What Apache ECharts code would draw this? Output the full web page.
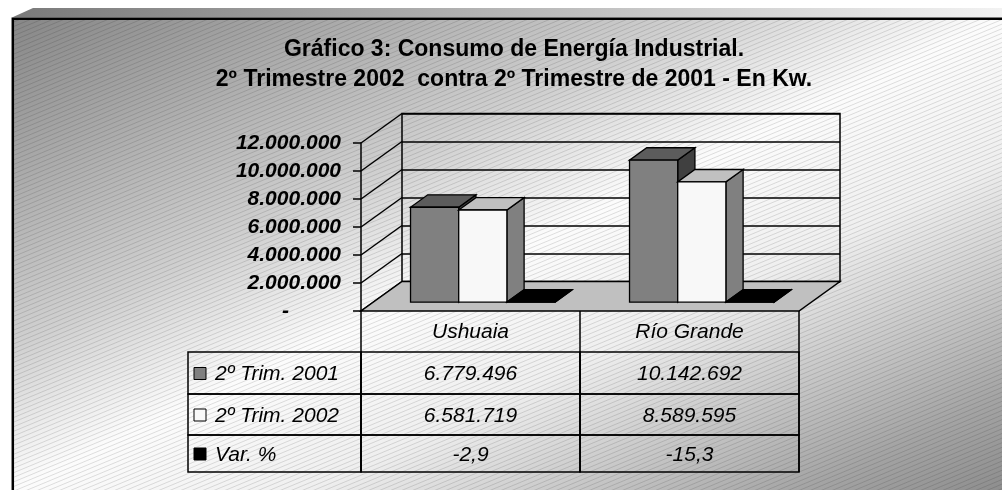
<!DOCTYPE html>
<html>
<head>
<meta charset="utf-8">
<script src="https://cdn.jsdelivr.net/npm/echarts@6/dist/echarts.min.js"></script>
<style>
  html, body { margin: 0; padding: 0; background: #fff; }
  #grafico { width: 1002px; height: 490px; }
</style>
</head>
<body>
<div id="grafico"></div>
<script>
// datos del gráfico
var categorias = ['Ushuaia', 'Río Grande'];
var nombresSeries = ['2º Trim. 2001', '2º Trim. 2002', 'Var. %'];
var trim2001 = [6779496, 10142692];
var trim2002 = [6581719, 8589595];
var variacion = [-2.9, -15.3];
var ticksEje = [0, 2000000, 4000000, 6000000, 8000000, 10000000, 12000000];

var FUENTE = '"Liberation Sans", Arial, sans-serif';
var DX = 41, DY = -29.5;            // profundidad del piso (3D)
var filas = [352, 394, 435, 472];   // bordes de las filas de la tabla

function miles(v) {
    var s = String(Math.round(Math.abs(v))).replace(/\B(?=(\d{3})+(?!\d))/g, '.');
    return (v < 0 ? '-' : '') + s;
}
function decimal(v) {
    return v.toFixed(1).replace('.', ',');
}

var textos = [trim2001.map(miles), trim2002.map(miles), variacion.map(decimal)];
var colores = [
    { front: '#808080', top: '#5c5c5c', side: '#404040' },
    { front: '#f8f8f8', top: '#c0c0c0', side: '#808080' },
    { front: '#000000', top: '#000000', side: '#000000' }
];

// fondo: degradado diagonal + trama de líneas
var fondo = document.createElement('canvas');
fondo.width = 1002; fondo.height = 490;
var ctx = fondo.getContext('2d');
var deg = ctx.createLinearGradient(12, 18, 378.7, 787.2);
deg.addColorStop(0, '#878787');
deg.addColorStop(0.35, '#d0d0d0');
deg.addColorStop(0.5, '#fcfcfc');
deg.addColorStop(0.65, '#efefef');
deg.addColorStop(0.9, '#a4a4a4');
deg.addColorStop(1, '#8e8e8e');
ctx.fillStyle = deg;
ctx.fillRect(12, 18, 990, 472);
ctx.save();
ctx.beginPath();
ctx.rect(12, 18, 990, 472);
ctx.clip();
ctx.strokeStyle = 'rgba(0,0,0,0.12)';
ctx.lineWidth = 1;
for (var c0 = 0; c0 < 490 + 1002 * 5 / 12 + 10; c0 += 4.6) {
    ctx.beginPath();
    ctx.moveTo(0, c0);
    ctx.lineTo(1002, c0 - 1002 * 5 / 12);
    ctx.stroke();
}
ctx.restore();

function barra(sIdx) {
    var c = colores[sIdx];
    return function (params, api) {
        var cat = api.value(0), val = api.value(1);
        var base = api.coord([cat, 0]);
        var tope = api.coord([cat, val]);
        var bw = api.size([1, 0])[0];
        var w = bw * 0.22;
        var ox = DX * 0.3, oy = DY * 0.3, px = DX * 0.42, py = DY * 0.42;
        var x0 = base[0] + (sIdx - 1.5) * w + ox, x1 = x0 + w;
        var yb = base[1] + oy, yt = tope[1] + oy;
        var borde = { stroke: '#000', lineWidth: 1.3 };
        return {
            type: 'group',
            children: [
                { type: 'polygon', shape: { points: [[x1, yt], [x1 + px, yt + py], [x1 + px, yb + py], [x1, yb]] },
                  style: Object.assign({ fill: c.side }, borde) },
                { type: 'polygon', shape: { points: [[x0, yt], [x1, yt], [x1 + px, yt + py], [x0 + px, yt + py]] },
                  style: Object.assign({ fill: c.top }, borde) },
                { type: 'rect', shape: { x: x0, y: yt, width: w, height: yb - yt },
                  style: Object.assign({ fill: c.front }, borde) }
            ]
        };
    };
}

var seriesBarras = [trim2001, trim2002, variacion].map(function (vals, i) {
    return {
        name: nombresSeries[i],
        type: 'custom',
        xAxisIndex: 0, yAxisIndex: 0,
        z: 3,
        renderItem: barra(i),
        encode: { x: 0, y: 1 },
        data: vals.map(function (v, j) { return [j, v]; })
    };
});

var celdas = [];
for (var s = 0; s < nombresSeries.length; s++) {
    for (var c = 0; c < categorias.length; c++) celdas.push([c, 0, s]);
}

var option = {
    backgroundColor: '#fff',
    animation: false,
    title: {
        text: 'Gráfico 3: Consumo de Energía Industrial.\n2º Trimestre 2002  contra 2º Trimestre de 2001 - En Kw.',
        left: 514, top: 35, padding: 0,
        textAlign: 'center',
        textStyle: { fontFamily: FUENTE, fontSize: 23, fontWeight: 'bold', color: '#000', lineHeight: 30 }
    },
    graphic: {
        elements: [
            { type: 'image', z: -10, silent: true,
              style: { image: fondo, x: 0, y: 0, width: 1002, height: 490 } },
            { type: 'polygon', z: -9, silent: true,
              shape: { points: [[12, 17.5], [33, 8], [1002, 8], [1002, 17.5]] },
              style: { fill: { type: 'linear', x: 0, y: 0, x2: 1, y2: 0,
                  colorStops: [{ offset: 0, color: '#7a7a7a' }, { offset: 1, color: '#f2f2f2' }] } } },
            { type: 'polyline', z: -8, silent: true,
              shape: { points: [[12.8, 490], [12.8, 18.7], [1002, 18.7]] },
              style: { stroke: '#000', lineWidth: 2.5, fill: null } }
        ]
    },
    grid: [
        { left: 361, top: 143, width: 438, height: 168 },
        { left: 361 + DX, top: 143 + DY, width: 438, height: 168,
          show: true, borderColor: '#000', borderWidth: 1.5, backgroundColor: 'transparent' }
    ],
    xAxis: [
        { gridIndex: 0, type: 'category', data: categorias,
          axisLine: { show: false },
          axisTick: { show: true, length: 161, lineStyle: { color: '#000', width: 1.5 } },
          axisLabel: { margin: 11, fontFamily: FUENTE, fontSize: 21, fontStyle: 'italic', color: '#000' } },
        { gridIndex: 1, type: 'category', data: categorias, show: false }
    ],
    yAxis: [
        { gridIndex: 0, type: 'value', min: 0, max: 12000000, interval: 2000000,
          axisLine: { show: true, lineStyle: { color: '#000', width: 1.5 } },
          axisTick: { show: true, length: 8, lineStyle: { color: '#000', width: 1.5 } },
          splitLine: { show: false },
          axisLabel: {
              margin: 20, fontFamily: FUENTE, fontSize: 21, fontWeight: 'bold', fontStyle: 'italic', color: '#000',
              formatter: function (v) { return v === 0 ? '{z|-}' : miles(v); },
              rich: { z: { padding: [0, 52, 0, 0], fontFamily: FUENTE, fontSize: 21, fontWeight: 'bold', fontStyle: 'italic', color: '#000' } }
          } },
        { gridIndex: 1, type: 'value', min: 0, max: 12000000, interval: 2000000,
          axisLine: { show: false }, axisTick: { show: false }, axisLabel: { show: false },
          splitLine: { show: true, lineStyle: { color: '#000', width: 1.5 } } }
    ],
    series: [
        {   // pared lateral
            type: 'custom', xAxisIndex: 0, yAxisIndex: 0, z: 1, silent: true,
            data: ticksEje.map(function (v) { return [0, v]; }),
            encode: { x: 0, y: 1 },
            renderItem: function (params, api) {
                var p = api.coord([0, api.value(1)]);
                var x = p[0] - api.size([1, 0])[0] / 2;
                return { type: 'line', shape: { x1: x, y1: p[1], x2: x + DX, y2: p[1] + DY },
                         style: { stroke: '#000', lineWidth: 1.5 } };
            }
        },
        {   // piso
            type: 'custom', xAxisIndex: 0, yAxisIndex: 0, z: 2, silent: true,
            data: [[0, 0]],
            encode: { x: 0, y: 1 },
            renderItem: function (params, api) {
                var bw = api.size([1, 0])[0];
                var a = api.coord([0, 0]), b = api.coord([categorias.length - 1, 0]);
                var l = a[0] - bw / 2, r = b[0] + bw / 2, y = a[1];
                return { type: 'polygon', shape: { points: [[l, y], [r, y], [r + DX, y + DY], [l + DX, y + DY]] },
                         style: { fill: '#c0c0c0', stroke: '#000', lineWidth: 1.5 } };
            }
        }
    ].concat(seriesBarras).concat([
        {   // tabla de datos
            type: 'custom', xAxisIndex: 0, yAxisIndex: 0, z: 4, silent: true, clip: false,
            data: celdas,
            encode: { x: 0, y: 1 },
            renderItem: function (params, api) {
                var cat = api.value(0), fila = api.value(2);
                var p = api.coord([cat, 0]);
                var bw = api.size([1, 0])[0];
                var y0 = filas[fila], y1 = filas[fila + 1];
                var ym = (y0 + y1) / 2 + 1.5;
                var hijos = [
                    { type: 'rect', shape: { x: p[0] - bw / 2, y: y0, width: bw, height: y1 - y0 },
                      style: { fill: null, stroke: '#000', lineWidth: 1.5 } },
                    { type: 'text', style: { text: textos[fila][cat], x: p[0], y: ym, align: 'center', verticalAlign: 'middle',
                      fontFamily: FUENTE, fontSize: 21, fontStyle: 'italic', fill: '#000' } }
                ];
                if (cat === 0) {
                    var izq = 188, der = p[0] - bw / 2;
                    hijos.push(
                        { type: 'rect', shape: { x: izq, y: y0, width: der - izq, height: y1 - y0 },
                          style: { fill: null, stroke: '#000', lineWidth: 1.5 } },
                        { type: 'rect', shape: { x: 194, y: ym - 7, width: 12, height: 12 },
                          style: { fill: colores[fila].front, stroke: '#000', lineWidth: 1 } },
                        { type: 'text', style: { text: nombresSeries[fila], x: 215, y: ym, align: 'left', verticalAlign: 'middle',
                          fontFamily: FUENTE, fontSize: 21, fontStyle: 'italic', fill: '#000' } }
                    );
                }
                return { type: 'group', children: hijos };
            }
        }
    ])
};

var grafico = echarts.init(document.getElementById('grafico'));
grafico.setOption(option);
</script>
</body>
</html>
